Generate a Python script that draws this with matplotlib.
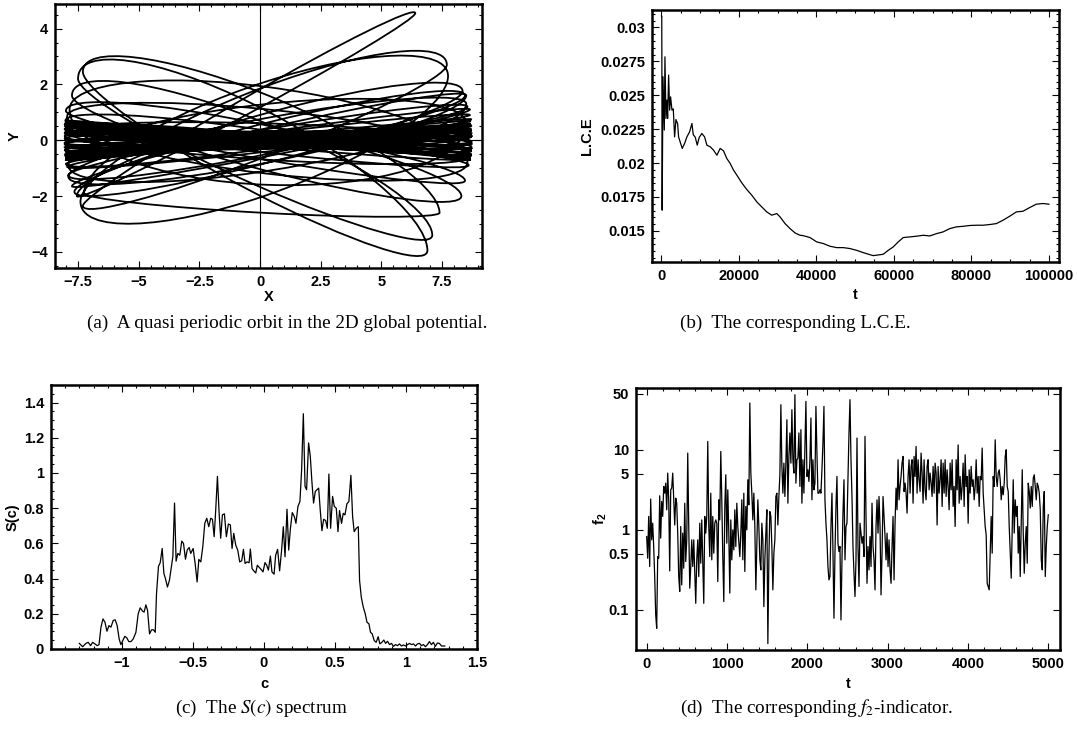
import numpy as np
import matplotlib
matplotlib.use("Agg")
import matplotlib.pyplot as plt
from matplotlib.path import Path
from matplotlib.patches import PathPatch
from matplotlib.ticker import FixedLocator, FuncFormatter, NullFormatter

plt.rcParams["font.family"] = ["Liberation Sans", "DejaVu Sans"]
plt.rcParams["mathtext.fontset"] = "custom"
plt.rcParams["mathtext.rm"] = "Liberation Sans:bold"
plt.rcParams["mathtext.it"] = "Liberation Sans:bold"
plt.rcParams["mathtext.bf"] = "Liberation Sans:bold"

# ---- (a) orbit: turning points (right / left) and the y value where each half swing crosses the middle
orbit_xr = [8.72, 8.72, 8.70, 8.68, 8.68, 8.70, 8.70, 8.72, 8.72, 8.72, 8.70, 8.68, 8.68, 8.68,
            8.70, 8.70, 8.72, 8.72, 8.70, 8.68, 8.68, 8.65, 8.55, 8.45, 8.35, 6.40, 7.70, 7.75,
            7.40, 6.90, 7.10, 8.30, 8.45, 8.60, 8.66, 8.70, 8.72, 8.72, 8.60, 8.55, 8.50, 8.50,
            8.50, 8.65, 8.70]
orbit_yr = [0.10, 0.25, 0.40, 0.55, 0.60, 0.50, 0.35, 0.15, -0.05, -0.25, -0.40, -0.55, -0.65, -0.70,
            -0.55, -0.35, -0.10, 0.15, 0.35, 0.55, 0.70, 0.90, 1.20, 1.60, 1.75, 4.55, 2.70, 2.30,
            -2.60, -3.95, -3.40, -2.00, -1.45, -0.90, -0.70, -0.50, -0.30, -0.15, -0.60, -0.80, 0.60,
            1.30, 1.60, 1.10, 0.75]
orbit_c1 = [0.15, 0.10, 0.05, 0.00, -0.08, -0.15, -0.20, -0.25, -0.25, -0.20, -0.15, -0.08, 0.00, 0.08,
            0.18, 0.25, 0.30, 0.30, 0.22, 0.12, 0.05, 0.25, 0.40, 0.65, 1.00, 1.60, 1.90, 2.10,
            1.70, 1.30, 0.80, 0.55, 0.35, 0.20, 0.15, 0.10, 0.05, 0.60, 1.10, 1.90, 1.30,
            0.80, 0.45, 0.30, 0.15]
orbit_xl = [-8.05, -8.05, -8.03, -8.02, -8.02, -8.03, -8.04, -8.05, -8.05, -8.05, -8.04, -8.03, -8.02, -8.02,
            -8.03, -8.04, -8.05, -8.05, -8.04, -8.03, -8.02, -8.00, -7.90, -7.65, -7.55, -7.30, -7.40, -7.25,
            -7.30, -7.50, -7.75, -8.00, -8.02, -8.04, -8.05, -8.05, -8.05, -8.02, -7.95, -7.85, -7.90,
            -7.90, -7.75, -7.95, -8.02]
orbit_yl = [-0.10, -0.25, -0.40, -0.55, -0.60, -0.50, -0.35, -0.15, 0.05, 0.25, 0.40, 0.55, 0.65, 0.70,
            0.60, 0.40, 0.15, -0.10, -0.35, -0.55, -0.70, -0.85, -1.25, -1.85, -2.00, -2.35, -2.20, -1.90,
            2.45, 2.20, 1.60, 1.05, 0.70, 0.50, 0.55, 0.40, 0.25, 0.30, 0.85, 1.10, -0.90,
            -1.30, -1.65, -0.95, -0.65]
orbit_c2 = [-0.15, -0.10, -0.05, 0.00, 0.08, 0.15, 0.20, 0.25, 0.25, 0.20, 0.15, 0.08, 0.00, -0.08,
            -0.18, -0.25, -0.30, -0.30, -0.22, -0.12, -0.05, -0.30, -0.50, -0.80, 0.90, -0.60, -2.00, -2.60,
            -1.90, -1.60, -1.10, -0.70, -0.45, -0.25, -0.15, -0.10, -0.05, -0.70, -1.20, -1.60, -1.10,
            -0.80, -0.55, -0.40, -0.20]
orbit_end = (8.72, 0.40)

# ---- (b) Lyapunov characteristic exponent
lce_t = [120, 220, 430, 770, 940, 1200, 1460, 1630, 1890, 2150, 2400, 2750, 3090, 3430, 3780, 4210,
         4460, 4980, 5410, 6010, 6610, 7300, 7900, 8240, 8760, 9270, 9790, 10470, 11160, 11760,
         12620, 13480, 14340, 15190, 16050, 16910, 17770, 18630, 19490, 20770, 22060, 23350, 24640,
         25920, 27210, 28500, 29790, 30640, 31930, 33220, 34510, 35790, 36650, 38370, 40090, 41800,
         43520, 45240, 46950, 48670, 50390, 52100, 53820, 54680, 55970, 57250, 58540, 59830, 61120,
         62410, 64120, 65840, 67560, 69270, 70990, 72710, 74420, 76140, 77860, 79570, 81290, 83010,
         84720, 86440, 88160, 89870, 91590, 93310, 95020, 96740, 98460, 100000]
lce_val = [0.0308, 0.01653, 0.02636, 0.02243, 0.02783, 0.02329, 0.02464, 0.02329, 0.02648, 0.0239,
           0.02488, 0.0239, 0.0240, 0.02193, 0.02321, 0.0229, 0.02193, 0.02145, 0.02108, 0.02145,
           0.02193, 0.0223, 0.02292, 0.0221, 0.0219, 0.02132, 0.0219, 0.02218, 0.02193, 0.02132,
           0.0212, 0.02095, 0.02058, 0.02108, 0.0209, 0.02033, 0.01997, 0.01948, 0.01911, 0.01854,
           0.01805, 0.01763, 0.01714, 0.01677, 0.0164, 0.01616, 0.01628, 0.01603, 0.01554, 0.01517,
           0.01485, 0.01468, 0.01465, 0.01451, 0.01419, 0.01407, 0.01387, 0.01377, 0.01377, 0.0137,
           0.01357, 0.0134, 0.01325, 0.01318, 0.01323, 0.01328, 0.01357, 0.01382, 0.01419, 0.01451,
           0.01456, 0.01461, 0.01468, 0.01463, 0.0148, 0.01493, 0.01517, 0.0153, 0.01534, 0.0154,
           0.01542, 0.01542, 0.01547, 0.01554, 0.01579, 0.01608, 0.0164, 0.01645, 0.01672, 0.01697,
           0.01702, 0.01697]

# ---- (c) S(c) spectrum
spec_c = [-1.301, -1.277, -1.254, -1.238, -1.221, -1.207, -1.191, -1.174, -1.162, -1.148, -1.134, -1.120,
          -1.106, -1.092, -1.078, -1.062, -1.048, -1.034, -1.020, -1.008, -0.994, -0.980, -0.966, -0.952,
          -0.937, -0.921, -0.902, -0.886, -0.872, -0.855, -0.844, -0.832, -0.820, -0.806, -0.792, -0.778,
          -0.766, -0.757, -0.743, -0.731, -0.717, -0.705, -0.694, -0.680, -0.666, -0.652, -0.642, -0.630,
          -0.619, -0.607, -0.593, -0.579, -0.567, -0.553, -0.541, -0.527, -0.516, -0.499, -0.485, -0.471,
          -0.459, -0.445, -0.431, -0.417, -0.403, -0.389, -0.375, -0.363, -0.351, -0.340, -0.328, -0.316,
          -0.305, -0.293, -0.279, -0.265, -0.251, -0.237, -0.225, -0.213, -0.199, -0.185, -0.171, -0.157,
          -0.145, -0.133, -0.119, -0.105, -0.096, -0.084, -0.072, -0.058, -0.047, -0.033, -0.019, -0.007,
          0.007, 0.019, 0.031, 0.045, 0.056, 0.071, 0.082, 0.096, 0.110, 0.124, 0.136, 0.148, 0.162, 0.174,
          0.185, 0.199, 0.214, 0.225, 0.239, 0.253, 0.265, 0.277, 0.289, 0.300, 0.314, 0.326, 0.338, 0.349,
          0.361, 0.373, 0.385, 0.396, 0.408, 0.420, 0.434, 0.446, 0.457, 0.469, 0.483, 0.495, 0.509, 0.521,
          0.532, 0.546, 0.558, 0.570, 0.584, 0.598, 0.612, 0.624, 0.635, 0.650, 0.664, 0.673, 0.685, 0.699,
          0.713, 0.725, 0.739, 0.750, 0.762, 0.776, 0.790, 0.804, 0.816, 0.830, 0.844, 0.856, 0.870, 0.884,
          0.898, 0.912, 0.926, 0.940, 0.954, 0.968, 0.982, 0.996, 1.011, 1.025, 1.039, 1.053, 1.067, 1.081,
          1.095, 1.109, 1.123, 1.137, 1.151, 1.165, 1.179, 1.193, 1.207, 1.221, 1.235, 1.250, 1.273]
spec_s = [0.032, 0.013, 0.032, 0.038, 0.019, 0.038, 0.029, 0.019, 0.025, 0.124, 0.171, 0.152,
          0.101, 0.133, 0.124, 0.162, 0.166, 0.133, 0.057, 0.025, 0.048, 0.072, 0.063, 0.042,
          0.042, 0.057, 0.095, 0.200, 0.234, 0.215, 0.210, 0.251, 0.219, 0.086, 0.109, 0.109,
          0.095, 0.314, 0.470, 0.490, 0.571, 0.429, 0.400, 0.352, 0.390, 0.467, 0.524, 0.829,
          0.499, 0.543, 0.533, 0.613, 0.600, 0.510, 0.562, 0.577, 0.543, 0.571, 0.486, 0.381,
          0.509, 0.495, 0.581, 0.714, 0.743, 0.695, 0.743, 0.737, 0.638, 0.790, 0.981, 0.771,
          0.629, 0.762, 0.768, 0.638, 0.710, 0.705, 0.571, 0.657, 0.590, 0.562, 0.495, 0.501,
          0.566, 0.486, 0.495, 0.490, 0.568, 0.457, 0.444, 0.432, 0.476, 0.463, 0.451, 0.438,
          0.491, 0.476, 0.448, 0.528, 0.438, 0.425, 0.533, 0.566, 0.444, 0.562, 0.695, 0.524, 0.794, 0.562,
          0.676, 0.775, 0.752, 0.714, 0.810, 0.838, 1.019, 1.337, 0.924, 0.905, 1.171, 1.095, 0.943, 0.829,
          0.895, 0.905, 0.914, 0.790, 0.672, 0.737, 0.730, 0.686, 0.994, 0.686, 0.867, 0.810, 0.800, 0.667,
          0.787, 0.714, 0.771, 0.762, 0.825, 0.838, 0.987, 0.752, 0.667, 0.686, 0.695, 0.390, 0.295, 0.238,
          0.200, 0.152, 0.143, 0.095, 0.086, 0.048, 0.038, 0.070, 0.029, 0.038, 0.051, 0.032, 0.044, 0.025,
          0.032, 0.015, 0.025, 0.019, 0.029, 0.017, 0.023, 0.017, 0.025, 0.032, 0.025, 0.029, 0.017, 0.029,
          0.032, 0.019, 0.025, 0.013, 0.025, 0.042, 0.025, 0.038, 0.015, 0.034, 0.032, 0.017, 0.017]

# ---- (d) f2 indicator, sampled evenly over 0..5000
f2_val = [0.825, 0.442, 1.47, 0.348, 2.42, 0.75, 1.21, 0.619, 0.261, 0.087, 0.059, 0.464, 0.442, 2.66,
          0.787, 2.26, 1.47, 3.48, 2.87, 3.83, 1.78, 5.11, 2.37, 0.307, 3.16, 3.32, 5.11, 2.37, 1.15,
          2.49, 2.15, 0.909, 0.261, 0.170, 1.10, 0.205, 0.909, 0.332, 2.15, 0.402, 0.75, 9.09, 1.10,
          0.187, 0.348, 0.75, 0.348, 0.75, 0.287, 0.121, 0.422, 0.75, 0.261, 1.21, 0.383, 1.33, 0.383,
          0.121, 1.47, 0.909, 1.47, 12.7, 1.10, 0.464, 2.87, 0.422, 1.47, 0.511, 1.21, 1.33, 1.21,
          0.226, 2.37, 1.33, 9.53, 2.37, 0.464, 0.127, 1.96, 4.87, 0.681, 3.16, 0.909, 0.162, 1.33,
          0.422, 1.0, 0.562, 1.78, 0.619, 2.15, 1.10, 0.715, 0.464, 0.909, 2.37, 0.422, 2.87, 0.302,
          1.96, 1.0, 4.22, 2.05, 38.3, 5.11, 2.87, 1.33, 2.87, 1.10, 0.178, 0.619, 2.37, 1.10, 0.422,
          0.316, 1.21, 0.75, 0.110, 0.422, 0.909, 1.78, 0.038, 0.422, 1.69, 1.47, 0.619, 0.178, 0.511,
          0.75, 2.61, 2.87, 1.15, 2.61, 4.87, 36.5, 6.19, 2.87, 6.81, 2.61, 6.81, 23.7, 2.15, 8.25,
          16.2, 6.81, 31.6, 7.50, 5.11, 48.7, 3.83, 7.50, 7.87, 16.2, 3.48, 17.8, 2.15, 7.50, 2.87,
          11.0, 40.2, 4.64, 5.62, 4.02, 7.50, 24.9, 2.37, 7.50, 3.16, 3.83, 34.8, 9.09, 2.87, 2.87,
          3.16, 2.87, 5.62, 12.1, 34.8, 2.37, 1.21, 0.75, 0.348, 0.237, 0.261, 1.10, 2.87, 0.536,
          0.0787, 0.511, 1.96, 4.64, 0.681, 0.536, 0.619, 0.075, 0.422, 1.62, 4.22, 0.422, 1.10, 1.21,
          4.22, 16.2, 42.2, 7.50, 2.61, 0.619, 0.287, 0.147, 0.422, 14.0, 0.619, 0.196, 1.21, 0.909,
          0.681, 0.825, 0.464, 14.7, 1.47, 0.215, 0.619, 0.316, 0.825, 0.348, 2.15, 0.619, 0.422, 0.178,
          1.10, 2.37, 0.909, 2.61, 1.10, 0.154, 0.511, 2.61, 1.47, 0.825, 0.422, 0.909, 0.348, 0.75,
          0.316, 0.215, 0.619, 1.47, 0.237, 1.21, 3.32, 1.78, 7.50, 2.37, 3.48, 4.64, 6.81, 8.25, 3.01,
          3.83, 2.87, 1.62, 4.64, 7.50, 2.87, 6.19, 7.50, 2.15, 8.25, 4.64, 11.0, 2.87, 7.50, 4.22,
          3.01, 9.09, 5.11, 2.15, 7.50, 3.16, 2.37, 6.19, 7.50, 3.16, 5.11, 3.83, 2.61, 6.19, 2.87,
          6.81, 5.11, 1.15, 6.19, 2.87, 4.22, 7.50, 1.96, 6.81, 2.87, 7.50, 2.61, 5.62, 3.48, 1.78,
          6.81, 3.16, 7.50, 1.96, 3.48, 1.10, 7.50, 3.16, 11.5, 2.15, 4.64, 2.37, 3.48, 6.81, 1.96,
          8.66, 3.48, 4.64, 1.21, 5.62, 2.87, 6.19, 3.48, 4.22, 2.37, 3.48, 7.50, 2.87, 4.64, 1.96,
          4.64, 4.22, 10.5, 2.87, 1.78, 1.10, 0.866, 0.215, 0.196, 0.178, 0.511, 1.47, 0.511, 4.64,
          3.48, 13.3, 4.64, 3.48, 5.11, 5.62, 4.22, 2.37, 3.48, 2.74, 3.83, 8.25, 10.0, 3.48, 3.01,
          1.10, 0.511, 0.249, 1.10, 4.22, 0.909, 2.37, 1.47, 1.96, 0.511, 1.10, 0.261, 1.15, 5.62,
          0.909, 0.287, 0.681, 1.10, 0.383, 3.83, 3.01, 1.87, 3.48, 1.96, 4.42, 4.87, 3.48, 2.37,
          3.83, 3.48, 2.87, 1.78, 0.422, 0.316, 1.96, 3.01, 0.261, 0.619, 1.10, 1.54]
f2_t = np.linspace(0, 5000, len(f2_val))

W, H = 1077, 738
fig = plt.figure(figsize=(W / 100, H / 100), dpi=100)


def add_ax(left, top, right, bottom):
    # pixel box -> figure fraction
    return fig.add_axes([left / W, 1 - bottom / H, (right - left) / W, (bottom - top) / H])


def style(ax, xmaj, xmin, ymaj=None, ymin=None):
    for s in ax.spines.values():
        s.set_linewidth(1.8)
    ax.xaxis.set_major_locator(FixedLocator(xmaj))
    ax.xaxis.set_minor_locator(FixedLocator(xmin))
    if ymaj is not None:
        ax.yaxis.set_major_locator(FixedLocator(ymaj))
        ax.yaxis.set_minor_locator(FixedLocator(ymin))
    fmt = FuncFormatter(lambda v, p: f"{v:g}".replace("-", "\u2212"))
    ax.xaxis.set_major_formatter(fmt)
    ax.yaxis.set_major_formatter(fmt)
    ax.yaxis.set_minor_formatter(NullFormatter())
    ax.tick_params(which="both", direction="in", top=True, right=True, width=0.8,
                   labelsize=10.5, pad=5)
    ax.tick_params(which="major", length=5)
    ax.tick_params(which="minor", length=2.5)
    for lab in ax.get_xticklabels() + ax.get_yticklabels():
        lab.set_fontweight("bold")


def label(ax, xl, yl, xoff, yoff, wpx, hpx):
    ax.set_xlabel(xl, fontsize=10.5, fontweight="bold", va="center")
    ax.set_ylabel(yl, fontsize=10.5, fontweight="bold", va="center")
    ax.xaxis.set_label_coords(0.5, -yoff / hpx)
    ax.yaxis.set_label_coords(-xoff / wpx, 0.5)


def orbit_path():
    # each half swing is half an ellipse: tip -> middle crossing -> next tip
    k = 0.5523
    tips, cross = [], []
    for i in range(len(orbit_xr)):
        tips += [(orbit_xr[i], orbit_yr[i]), (orbit_xl[i], orbit_yl[i])]
        cross += [orbit_c1[i], orbit_c2[i]]
    tips.append(orbit_end)
    verts = [tips[0]]
    codes = [Path.MOVETO]
    for (xa, ya), (xb, yb), yc in zip(tips[:-1], tips[1:], cross):
        a0, a1 = (xa + xb) / 2, (xa - xb) / 2
        b1 = (ya - yb) / 2
        b2 = yc - (ya + yb) / 2
        verts += [(xa, ya + k * b2), (a0 + k * a1, yc + k * b1), (a0, yc),
                  (a0 - k * a1, yc - k * b1), (xb, yb + k * b2), (xb, yb)]
        codes += [Path.CURVE4] * 6
    return Path(verts, codes)


# (a) orbit
ax = add_ax(55, 4, 482, 268)
ax.axhline(0, color="black", lw=0.8)
ax.axvline(0, color="black", lw=0.8)
ax.add_patch(PathPatch(orbit_path(), fill=False, ec="black", lw=1.3))
ax.set_xlim(-8.45, 9.15)
ax.set_ylim(-4.58, 4.88)
style(ax, np.arange(-7.5, 7.6, 2.5), np.arange(-8, 9.1, 0.5), np.arange(-4, 4.1, 2), np.arange(-4.5, 4.9, 0.5))
label(ax, "X", "Y", 40, 29, 427, 264)

# (b) L.C.E.
ax = add_ax(652, 10, 1059, 262)
ax.plot(lce_t, lce_val, color="black", lw=0.9)
ax.set_xlim(-2400, 102600)
ax.set_ylim(0.01271, 0.03128)
style(ax, np.arange(0, 100001, 20000), np.arange(0, 100001, 5000),
      [0.015, 0.0175, 0.02, 0.0225, 0.025, 0.0275, 0.03], np.arange(0.013, 0.0311, 0.0005))
label(ax, "t", "L.C.E", 65, 33, 407, 252)

# (c) S(c)
ax = add_ax(51, 385, 477, 649)
ax.plot(spec_c, spec_s, color="black", lw=0.9)
ax.set_xlim(-1.5, 1.5)
ax.set_ylim(0, 1.5)
style(ax, [-1, -0.5, 0, 0.5, 1, 1.5], np.arange(-1.5, 1.51, 0.1), np.arange(0, 1.41, 0.2), np.arange(0, 1.5, 0.05))
label(ax, "c", "S(c)", 38, 35, 426, 264)

# (d) f2 indicator
ax = add_ax(636, 388, 1060, 650)
ax.plot(f2_t, f2_val, color="black", lw=0.9)
ax.set_yscale("log")
ax.set_xlim(-133, 5146)
ax.set_ylim(0.0316, 59)
style(ax, np.arange(0, 5001, 1000), np.arange(0, 5001, 200), [0.1, 0.5, 1, 5, 10, 50], [])
label(ax, "t", "$\\mathbf{f_2}$", 36, 34, 424, 262)

# sub-captions
cap = dict(family="Liberation Serif", fontsize=13.8, fontweight="normal", va="center", math_fontfamily="stix")
fig.text(487 / W, 1 - 323 / H, "(a)  A quasi periodic orbit in the 2D global potential.", ha="right", **cap)
fig.text(680 / W, 1 - 323 / H, "(b)  The corresponding L.C.E.", ha="left", **cap)
fig.text(261 / W, 1 - 708 / H, "(c)  The $S(c)$ spectrum", ha="center", **cap)
fig.text(680 / W, 1 - 708 / H, "(d)  The corresponding $f_2$-indicator.", ha="left", **cap)

fig.savefig("out.png", dpi=100)
